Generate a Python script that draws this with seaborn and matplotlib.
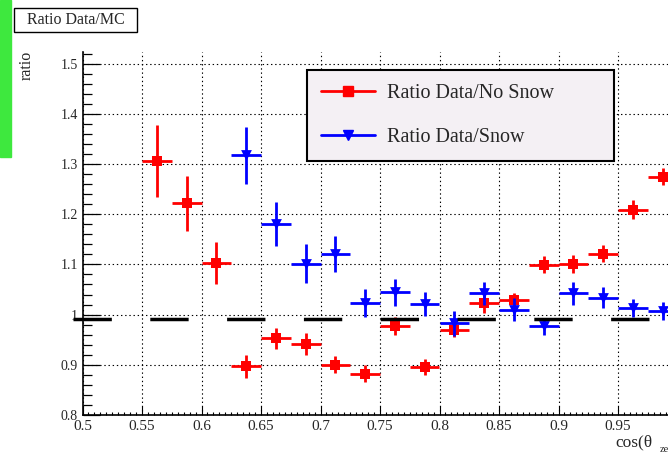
import numpy as np
import pandas as pd
import matplotlib
matplotlib.use('Agg')
import matplotlib.pyplot as plt
import matplotlib.patches as patches
from matplotlib.lines import Line2D
from matplotlib.ticker import MultipleLocator, FixedLocator, FormatStrFormatter
import seaborn as sns

# --- data ---
x_nosnow = [0.5625, 0.5875, 0.6125, 0.6375, 0.6625, 0.6875, 0.7125, 0.7375, 0.7625,
            0.7875, 0.8125, 0.8375, 0.8625, 0.8875, 0.9125, 0.9375, 0.9625, 0.9875]
ratio_nosnow = [1.306, 1.222, 1.102, 0.897, 0.953, 0.942, 0.900, 0.882, 0.977,
                0.895, 0.970, 1.023, 1.030, 1.099, 1.101, 1.121, 1.209, 1.275]
err_nosnow = [0.072, 0.055, 0.042, 0.023, 0.021, 0.022, 0.017, 0.017, 0.018,
              0.016, 0.015, 0.019, 0.013, 0.017, 0.018, 0.017, 0.019, 0.017]

x_snow = [0.6375, 0.6625, 0.6875, 0.7125, 0.7375, 0.7625, 0.7875, 0.8125,
          0.8375, 0.8625, 0.8875, 0.9125, 0.9375, 0.9625, 0.9875]
ratio_snow = [1.317, 1.180, 1.101, 1.121, 1.023, 1.044, 1.021, 0.983,
              1.042, 1.010, 0.977, 1.042, 1.034, 1.013, 1.007]
err_snow = [0.057, 0.044, 0.039, 0.036, 0.027, 0.027, 0.024, 0.025,
            0.023, 0.023, 0.017, 0.022, 0.020, 0.018, 0.018]

x_ticks = [0.5, 0.55, 0.6, 0.65, 0.7, 0.75, 0.8, 0.85, 0.9, 0.95]
half_bin = 0.0125
ref_x = [0.4918, 1.0]
ref_y = [0.991, 0.991]

W, H = 668, 454

sns.set_theme(style='white')
plt.rcParams['font.family'] = ['Liberation Serif', 'DejaVu Serif']
plt.rcParams['lines.scale_dashes'] = False

fig = plt.figure(figsize=(W / 100, H / 100), dpi=100)
ax = fig.add_axes([82.5 / W, 39 / H, 595 / W, 363 / H])

# error crosses
ax.errorbar(x_nosnow, ratio_nosnow, xerr=half_bin, yerr=err_nosnow, fmt='none',
            ecolor='#ff0000', elinewidth=2, capsize=0, zorder=3)
sns.scatterplot(x=x_nosnow, y=ratio_nosnow, marker='s', color='#ff0000', s=50,
                linewidth=0, ax=ax, zorder=4)
ax.errorbar(x_snow, ratio_snow, xerr=half_bin, yerr=err_snow, fmt='none',
            ecolor='#0000ff', elinewidth=2, capsize=0, zorder=5)
sns.scatterplot(x=x_snow, y=ratio_snow, marker='v', color='#0000ff', s=60,
                linewidth=0, ax=ax, zorder=6)

# dashed reference line
ax.plot(ref_x, ref_y, color='black', lw=2.5, dashes=(27.6, 27.7),
        dash_capstyle='butt', clip_on=False, zorder=7)

ax.set_xlim(0.5, 1.0)
ax.set_ylim(0.8, 1.523)
ax.xaxis.set_major_locator(FixedLocator(x_ticks))
ax.xaxis.set_minor_locator(MultipleLocator(0.005))
ax.yaxis.set_major_locator(MultipleLocator(0.1))
ax.yaxis.set_minor_locator(MultipleLocator(0.02))
ax.xaxis.set_major_formatter(FormatStrFormatter('%g'))
ax.yaxis.set_major_formatter(FormatStrFormatter('%g'))
ax.tick_params(axis='x', which='major', direction='in', length=6.5, width=0.8,
               pad=3.5, labelsize=11, color='black', bottom=True)
ax.tick_params(axis='x', which='minor', direction='in', length=2.3, width=0.8,
               color='black', bottom=True)
ax.tick_params(axis='y', which='major', direction='in', length=12.5, width=0.9,
               pad=3.5, labelsize=10, color='black', left=True)
ax.tick_params(axis='y', which='minor', direction='in', length=6.5, width=0.9,
               color='black', left=True)
ax.grid(True, which='major', color='black', linestyle=(0, (1, 2)), lw=0.8)
ax.set_axisbelow(True)
for side in ['top', 'right']:
    ax.spines[side].set_visible(False)
for side in ['left', 'bottom']:
    ax.spines[side].set_color('black')
    ax.spines[side].set_linewidth(1.2)
ax.set_xlabel('')
ax.set_ylabel('')

# legend
handles = [
    Line2D([], [], color='#ff0000', lw=2, marker='s', ms=7),
    Line2D([], [], color='#0000ff', lw=2, marker='v', ms=7.5),
]
leg = ax.legend(handles, ['Ratio Data/No Snow', 'Ratio Data/Snow'], loc='upper left',
                bbox_to_anchor=(307.3 / W, 1 - 160.5 / H, 306.7 / W, 91 / H),
                bbox_transform=fig.transFigure, mode='expand', borderaxespad=0,
                fontsize=14.5, handlelength=2.68, handletextpad=0.58, borderpad=0.7,
                labelspacing=1.23, numpoints=1, fancybox=False, framealpha=1)
leg.get_frame().set_facecolor('#f4f0f4')
leg.get_frame().set_edgecolor('black')
leg.get_frame().set_linewidth(1.5)
leg.set_zorder(10)

# canvas decorations
fig.patches.append(patches.Rectangle((0, 1 - 157 / H), 10.5 / W, 157 / H,
                                     transform=fig.transFigure, color='#3ee83e', zorder=0))
fig.patches.append(patches.Rectangle((14 / W, 1 - 32 / H), 123 / W, 24 / H,
                                     transform=fig.transFigure, facecolor='white',
                                     edgecolor='black', lw=1))
fig.text(75.5 / W, 1 - 20 / H, 'Ratio Data/MC', ha='center', va='center', fontsize=11.5)
fig.text(26.7 / W, 1 - 65 / H, 'ratio', rotation=90, ha='center', va='center', fontsize=11.5)
fig.text(615 / W, 8 / H, 'cos(θ', ha='left', va='baseline', fontsize=12.5)
fig.text(660 / W, 2.5 / H, 'zen.la', ha='left', va='baseline', fontsize=7.5)

fig.savefig('out.png', dpi=100)
